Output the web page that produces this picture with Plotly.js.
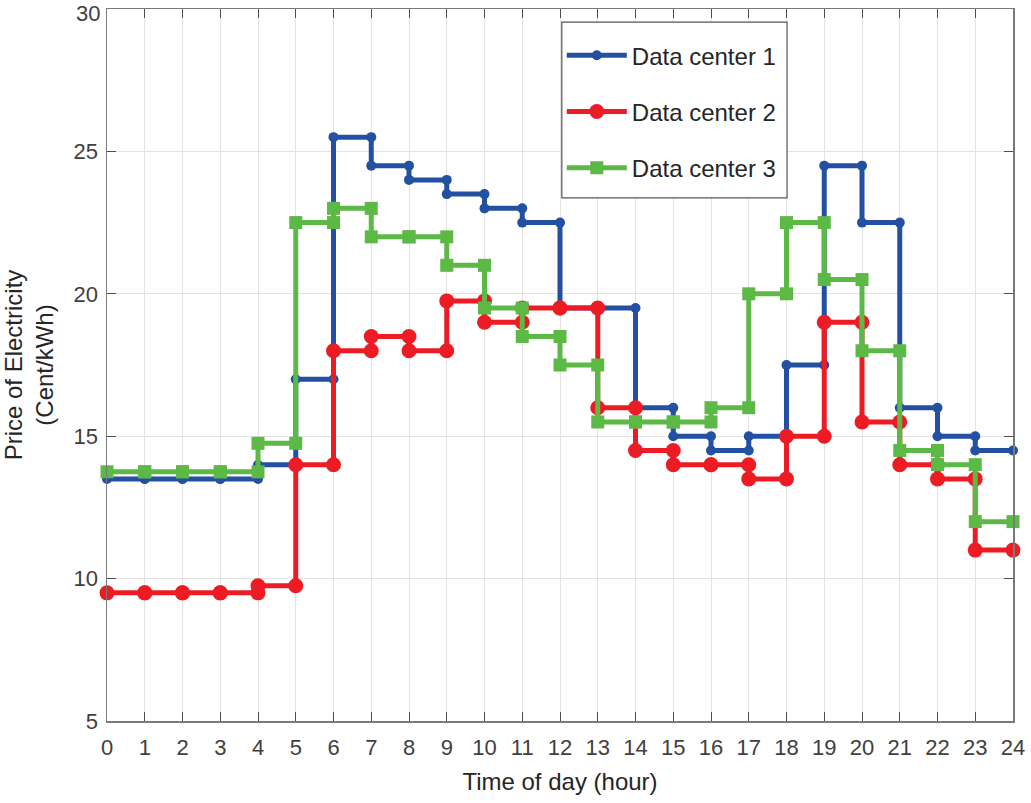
<!DOCTYPE html>
<html>
<head>
<meta charset="utf-8">
<script src="https://cdn.plot.ly/plotly-3.0.1.min.js"></script>
<style>
  body { margin: 0; background: #ffffff; }
  #graphique { width: 1031px; height: 803px; }
</style>
</head>
<body>
<div id="graphique"></div>
<script>
// Heures de début de chaque palier (chaque palier dure une heure)
const heures = [0, 1, 2, 3, 4, 5, 6, 7, 8, 9, 10, 11, 12, 13, 14, 15, 16, 17, 18, 19, 20, 21, 22, 23];

// Prix (Cent/kWh)
const prix_dc1 = [13.5, 13.5, 13.5, 13.5, 14, 17, 25.5, 24.5, 24, 23.5, 23, 22.5,
                  19.5, 19.5, 16, 15, 14.5, 15, 17.5, 24.5, 22.5, 16, 15, 14.5];
const prix_dc2 = [9.5, 9.5, 9.5, 9.5, 9.75, 14, 18, 18.5, 18, 19.75, 19, 19.5,
                  19.5, 16, 14.5, 14, 14, 13.5, 15, 19, 15.5, 14, 13.5, 11];
const prix_dc3 = [13.75, 13.75, 13.75, 13.75, 14.75, 22.5, 23, 22, 22, 21, 19.5, 18.5,
                  17.5, 15.5, 15.5, 15.5, 16, 20, 22.5, 20.5, 18, 14.5, 14, 12];

const noms = ["Data center 1", "Data center 2", "Data center 3"];
const ticks_x = [0, 1, 2, 3, 4, 5, 6, 7, 8, 9, 10, 11, 12, 13, 14, 15, 16, 17, 18, 19, 20, 21, 22, 23, 24];
const ticks_y = [5, 10, 15, 20, 25, 30];
// le libellé du haut (30) est posé à part pour ne pas sortir de la page
const libelles_y = ["5", "10", "15", "20", "25", ""];

const police = "Liberation Sans, Arial, Helvetica, sans-serif";

/**
 * Construit les sommets de l'escalier : chaque heure donne un point au début et un à la fin
 */
function sommets_escalier(valeurs) {
    let xs = [];
    let ys = [];
    for (let i = 0; i < heures.length; i = i + 1) {
        xs.push(heures[i], heures[i] + 1);
        ys.push(valeurs[i], valeurs[i]);
    }
    return [xs, ys];
}

function trace(valeurs, nom, couleur, symbole, taille, groupe) {
    let s = sommets_escalier(valeurs);
    return {
        x: s[0],
        y: s[1],
        type: "scatter",
        mode: "lines+markers",
        name: nom,
        legendgroup: groupe,
        line: {color: couleur, width: 5},
        marker: {color: couleur, symbol: symbole, size: taille, line: {width: 0}},
        cliponaxis: false
    };
}

let donnee = [
    trace(prix_dc1, noms[0], "#2350a3", "circle", 10, "g1"),
    trace(prix_dc2, noms[1], "#ed1c24", "circle", 15, "g2"),
    trace(prix_dc3, noms[2], "#5db946", "square", 13, "g3")
];

let axe_commun = {
    showline: true,
    linecolor: "#7a7a7a",
    linewidth: 1.5,
    mirror: "ticks",
    ticks: "inside",
    ticklen: 9,
    tickwidth: 1,
    tickcolor: "#4d4d4d",
    showgrid: true,
    gridcolor: "#e3e3e3",
    gridwidth: 1,
    zeroline: false,
    tickfont: {family: police, size: 22, color: "#404040"}
};

let apparence = {
    width: 1031,
    height: 803,
    paper_bgcolor: "#ffffff",
    plot_bgcolor: "#ffffff",
    margin: {l: 107, r: 18, t: 9, b: 82},
    showlegend: true,
    // cadre de la légende, dessiné à part pour avoir la même marge que l'original
    shapes: [{
        type: "rect", xref: "paper", yref: "paper",
        x0: 0.502, x1: 0.7506, y0: 0.7346, y1: 0.9817,
        line: {color: "#555555", width: 1.2},
        fillcolor: "#ffffff",
        layer: "above"
    }],
    annotations: [{
        text: String(ticks_y[ticks_y.length - 1]),
        xref: "paper", x: 0, xanchor: "right", xshift: -6,
        yref: "y", y: ticks_y[ticks_y.length - 1], yanchor: "top", yshift: 9,
        showarrow: false,
        borderpad: 0,
        font: {family: police, size: 22, color: "#404040"}
    }],
    legend: {
        x: 0.502,
        y: 0.966,
        xanchor: "left",
        yanchor: "top",
        bgcolor: "rgba(0,0,0,0)",
        borderwidth: 0,
        itemwidth: 60,
        tracegroupgap: 22,
        font: {family: police, size: 24, color: "#262626"}
    },
    xaxis: Object.assign({}, axe_commun, {
        range: [0, 24],
        tickvals: ticks_x,
        ticklabelstandoff: 6,
        title: {text: "Time of day (hour)", standoff: 14,
                font: {family: police, size: 24, color: "#262626"}}
    }),
    yaxis: Object.assign({}, axe_commun, {
        range: [5, 30],
        tickvals: ticks_y,
        ticktext: libelles_y,
        ticklabelstandoff: 3,
        title: {text: "Price of Electricity<br>(Cent/kWh)", standoff: 13,
                font: {family: police, size: 24, color: "#262626"}}
    })
};

Plotly.newPlot("graphique", donnee, apparence, {displayModeBar: false, staticPlot: true});
</script>
</body>
</html>
